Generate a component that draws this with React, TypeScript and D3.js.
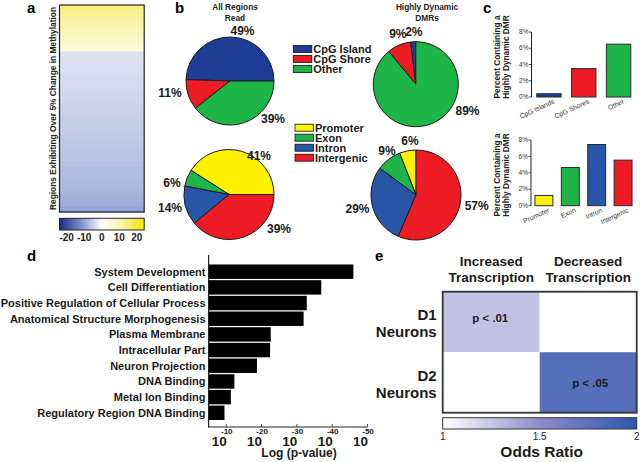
import React from 'react';
import * as d3 from 'd3';

const FONT = '"Liberation Sans", Arial, Helvetica, sans-serif';

// ---------- Panel a: heatmap rows (% change in methylation) ----------
const heatRows = [12, 11, 10, 9, 8, 7, 6, 5, 4,
  -2.6, -2.7, -2.8, -2.9, -3.0, -3.2, -3.3, -3.4, -3.6, -3.7, -3.9, -4.0, -4.1, -4.3, -4.4,
  -4.6, -4.7, -4.9, -5.0, -5.2, -5.3, -5.5, -5.7, -5.8, -6.0, -6.2, -6.4, -6.7, -7.0, -7.4, -8.1];
const heatTicks = [-20, -10, 0, 10, 20];

// ---------- Panel b: pies ----------
const regionCats = ['CpG Island', 'CpG Shore', 'Other'];
const allRegionsPct = [49, 11, 39];
const dynamicRegionsPct = [2, 9, 89];
const featureCats = ['Promoter', 'Exon', 'Intron', 'Intergenic'];
const allFeaturesPct = [41, 6, 14, 39];
const dynamicFeaturesPct = [6, 9, 29, 57];

// ---------- Panel c: bars ----------
const regionBarLabels = ['CpG Islands', 'CpG Shores', 'Other'];
const regionBarPct = [0.4, 3.5, 6.5];
const featureBarPct = [1.25, 4.65, 7.45, 5.55];
const pctTicks = [0, 2, 4, 6, 8];

// ---------- Panel d: GO terms ----------
const goTerms = ['System Development', 'Cell Differentiation', 'Positive Regulation of Cellular Process',
  'Anatomical Structure Morphogenesis', 'Plasma Membrane', 'Intracellular Part', 'Neuron Projection',
  'DNA Binding', 'Metal Ion Binding', 'Regulatory Region DNA Binding'];
const goNegLogP = [46, 36.9, 32.8, 31.9, 22.6, 22.4, 18.7, 12.3, 11.3, 9.5];
const logTicks = [10, 20, 30, 40, 50];

// ---------- Panel e: odds ratio grid ----------
const cellTypes = ['D1', 'D2'];
const directions = ['Increased', 'Decreased'];
const oddsRatios = [[1.27, 1.0], [1.0, 1.78]];
const pLabels = [['p < .01', ''], ['', 'p < .05']];
const orTicks = [1, 1.5, 2];

// colours
const regionColors = ['#1f3c95', '#ed1c24', '#1eb548'];
const featureColors = ['#fff200', '#1eb548', '#2755a8', '#ed1c24'];

const heatColor = d3.scaleLinear<string>()
  .domain([-20, -10, 0, 10, 20])
  .range(['#1a2a80', '#7a8fcb', '#ffffff', '#f9f2a0', '#f5e600']);
const orColor = d3.scaleLinear<string>()
  .domain([1, 1.5, 2])
  .range(['#ffffff', '#8e8ccb', '#2a58ae']);

function Pie({ cx, cy, r, values, colors, start, labels }: any) {
  const pie = d3.pie<number>().sort(null).value(d => d).startAngle(start).endAngle(start - 2 * Math.PI);
  const arc = d3.arc<any>().innerRadius(0).outerRadius(r);
  const arcs = pie(values);
  return (
    <g transform={`translate(${cx},${cy})`}>
      {arcs.map((a, i) => (
        <path key={i} d={arc(a) as string} fill={colors[i]} stroke="#1a1a1a" strokeWidth={1} strokeLinejoin="round" />
      ))}
      {labels.map((l: any, i: number) => (
        <text key={'l' + i} x={l[0]} y={l[1]} textAnchor="middle" fontSize={12} fontWeight="bold" fill="#1a1a1a">
          {values[i] + '%'}
        </text>
      ))}
    </g>
  );
}

function Legend({ x, y, cats, colors }: any) {
  return (
    <g transform={`translate(${x},${y})`}>
      {cats.map((c: string, i: number) => (
        <g key={c} transform={`translate(0,${i * 10})`}>
          <rect x={0} y={-3.5} width={18.5} height={7} fill={colors[i]} stroke="#111" strokeWidth={0.8} />
          <text x={20} y={4} fontSize={11} fontWeight="bold" fill="#1a1a1a">{c}</text>
        </g>
      ))}
    </g>
  );
}

function BarChart({ labels, values, colors, y0, y8, x0, x1, pi, po, labelX, labelY, labelDy }: any) {
  const y = d3.scaleLinear().domain([0, 8]).range([y0, y8]);
  const x = d3.scaleBand<string>().domain(labels).range([x0, x1]).paddingInner(pi).paddingOuter(po);
  return (
    <g>
      <line x1={x0} x2={x0} y1={y(8)} y2={y(0)} stroke="#222" strokeWidth={1} />
      {pctTicks.map(t => (
        <g key={t}>
          <line x1={x0 - 2.5} x2={x0} y1={y(t)} y2={y(t)} stroke="#222" strokeWidth={0.8} />
          <text x={x0 - 3} y={y(t) + 2.2} fontSize={6.5} textAnchor="end" fill="#333">{t + '%'}</text>
        </g>
      ))}
      {labels.map((l: string, i: number) => (
        <g key={l}>
          <rect x={x(l)} y={y(values[i])} width={x.bandwidth()} height={y(0) - y(values[i])}
            fill={colors[i]} stroke="#2a2a2a" strokeWidth={1} />
          <text transform={`translate(${(x(l) as number) + x.bandwidth() / 2 + 6},${y0 + labelDy}) rotate(-25)`}
            fontSize={6.8} textAnchor="end" fill="#333">{l}</text>
        </g>
      ))}
      <text transform={`translate(${labelX},${labelY}) rotate(-90)`} textAnchor="middle" fontSize={8.3} fontWeight="bold" fill="#222">
        <tspan x={0} y={-9}>Percent Containing a</tspan>
        <tspan x={0} y={0}>Highly Dynamic DMR</tspan>
      </text>
    </g>
  );
}

export default function App() {
  // Panel a scales
  const hx0 = 59.5, hx1 = 144.2, hy0 = 5, hy1 = 212;
  const rowY = d3.scaleBand<number>().domain(heatRows.map((_, i) => i)).range([hy0, hy1]);
  const cbX = d3.scaleLinear().domain([-20, 20]).range([66.7, 136.7]);

  // Panel d scales
  const dx = d3.scaleLinear().domain([5, 50]).range([208.6, 367.5]);
  const dy = d3.scaleBand<string>().domain(goTerms).range([264.5, 420]).paddingInner(0.08);

  // Panel e scales
  const ex = d3.scaleBand<string>().domain(directions).range([442.7, 636.7]);
  const ey = d3.scaleBand<string>().domain(cellTypes).range([291.7, 412.7]);
  const orX = d3.scaleLinear().domain([1, 2]).range([442.7, 636.7]);

  const gradStops = d3.range(0, 1.0001, 0.05);

  return (
    <svg width={640} height={462} style={{ position: 'absolute', left: 0, top: 0, background: '#fff' }} fontFamily={FONT}>
      <defs>
        <linearGradient id="gradA" x1="0" x2="1" y1="0" y2="0">
          {gradStops.map(t => <stop key={t} offset={t} stopColor={heatColor(-20 + 40 * t)} />)}
        </linearGradient>
        <linearGradient id="gradE" x1="0" x2="1" y1="0" y2="0">
          {gradStops.map(t => <stop key={t} offset={t} stopColor={orColor(1 + t)} />)}
        </linearGradient>
      </defs>
      <rect x={0} y={0} width={640} height={462} fill="#fff" />

      {/* Panel letters */}
      <text x={27} y={13} fontSize={15} fontWeight="bold">a</text>
      <text x={175} y={13} fontSize={15} fontWeight="bold">b</text>
      <text x={483} y={13} fontSize={15} fontWeight="bold">c</text>
      <text x={27} y={261} fontSize={15} fontWeight="bold">d</text>
      <text x={375} y={261} fontSize={15} fontWeight="bold">e</text>

      {/* ---------- Panel a ---------- */}
      {heatRows.map((v, i) => (
        <rect key={i} x={hx0} y={rowY(i)} width={hx1 - hx0} height={rowY.bandwidth() + 0.5} fill={heatColor(v)} />
      ))}
      <rect x={hx0} y={hy0} width={hx1 - hx0} height={hy1 - hy0} fill="none" stroke="#222" strokeWidth={1.2} />
      <text transform={`translate(56,${(hy0 + hy1) / 2}) rotate(-90)`} textAnchor="middle" fontSize={8.5} fontWeight="bold" fill="#222"
        textLength={203} lengthAdjust="spacingAndGlyphs">
        Regions Exhibiting Over 5% Change in Methylation
      </text>
      <rect x={hx0} y={218.3} width={hx1 - hx0} height={11.7} fill="url(#gradA)" stroke="#222" strokeWidth={1} />
      {heatTicks.map(t => (
        <text key={t} x={cbX(t)} y={241} textAnchor="middle" fontSize={10} fontWeight="bold" fill="#222">{t}</text>
      ))}

      {/* ---------- Panel b ---------- */}
      <text x={235} y={10} textAnchor="middle" fontSize={8.3} fontWeight="bold" fill="#222">All Regions</text>
      <text x={235} y={21} textAnchor="middle" fontSize={8.3} fontWeight="bold" fill="#222">Read</text>
      <text x={427} y={10} textAnchor="middle" fontSize={8.3} fontWeight="bold" fill="#222">Highly Dynamic</text>
      <text x={427} y={21} textAnchor="middle" fontSize={8.3} fontWeight="bold" fill="#222">DMRs</text>

      <Pie cx={230} cy={81} r={44} values={allRegionsPct} colors={regionColors} start={Math.PI / 2}
        labels={[[12.5, -46], [-60, 15.7], [43, 42]]} />
      <Pie cx={415.8} cy={84.2} r={42.5} values={dynamicRegionsPct} colors={regionColors} start={0}
        labels={[[-2, -48.5], [-18, -46.5], [51.7, 31]]} />
      <Pie cx={229} cy={194.5} r={45} values={allFeaturesPct} colors={featureColors} start={Math.PI / 2}
        labels={[[30, -35], [-57, -8], [-59, 17], [50, 38.5]]} />
      <Pie cx={416} cy={195} r={45} values={dynamicFeaturesPct} colors={featureColors} start={0}
        labels={[[-6, -50], [-29, -40.5], [-58.5, 18], [60.7, 15]]} />

      <Legend x={293.3} y={49} cats={regionCats} colors={regionColors} />
      <Legend x={295} y={127.7} cats={featureCats} colors={featureColors} />

      {/* ---------- Panel c ---------- */}
      <BarChart labels={regionBarLabels} values={regionBarPct} colors={regionColors}
        y0={97} y8={32} x0={531.5} x1={636} pi={0.3} po={0.15} labelX={509} labelY={57} labelDy={6} />
      <BarChart labels={featureCats} values={featureBarPct} colors={featureColors}
        y0={205.7} y8={140} x0={531} x1={636} pi={0.32} po={0.15} labelX={509} labelY={175} labelDy={6} />

      {/* ---------- Panel d ---------- */}
      {goTerms.map((g, i) => (
        <g key={g}>
          <rect x={dx(5)} y={dy(g)} width={dx(goNegLogP[i]) - dx(5)} height={dy.bandwidth()} fill="#000" />
          <text x={205.5} y={(dy(g) as number) + dy.bandwidth() / 2 + 3.9} textAnchor="end" fontSize={11} fontWeight="bold" fill="#1a1a1a">{g}</text>
        </g>
      ))}
      <line x1={dx(5)} x2={dx(5)} y1={255} y2={427.5} stroke="#222" strokeWidth={1.2} />
      <line x1={dx(5)} x2={dx(50)} y1={427} y2={427} stroke="#222" strokeWidth={1} />
      {logTicks.map(t => (
        <g key={t}>
          <line x1={dx(t)} x2={dx(t)} y1={424} y2={427} stroke="#222" strokeWidth={0.8} />
          <text x={dx(t) + 0.5} y={446} textAnchor="end" fontSize={13.5} fontWeight="bold" fill="#1a1a1a">10</text>
          <text x={dx(t) + 0.5} y={434} textAnchor="middle" fontSize={8} fontWeight="bold" fill="#1a1a1a">{'-' + t}</text>
        </g>
      ))}
      <text x={299} y={457} textAnchor="middle" fontSize={12} fontWeight="bold" fill="#1a1a1a">Log (p-value)</text>

      {/* ---------- Panel e ---------- */}
      {directions.map(d => (
        <text key={d} x={(ex(d) as number) + ex.bandwidth() / 2} y={266} textAnchor="middle" fontSize={13.5} fontWeight="bold" fill="#1a1a1a">
          <tspan x={(ex(d) as number) + ex.bandwidth() / 2} y={266}>{d}</tspan>
          <tspan x={(ex(d) as number) + ex.bandwidth() / 2} y={281.7}>Transcription</tspan>
        </text>
      ))}
      {cellTypes.map((c, ri) => (
        <g key={c}>
          <text x={436.7} y={(ey(c) as number) + 28.3} textAnchor="end" fontSize={15} fontWeight="bold" fill="#1a1a1a">{c}</text>
          <text x={436.7} y={(ey(c) as number) + 45.5} textAnchor="end" fontSize={15} fontWeight="bold" fill="#1a1a1a">Neurons</text>
          {directions.map((d, ci) => (
            <g key={d}>
              <rect x={ex(d)} y={ey(c)} width={ex.bandwidth()} height={ey.bandwidth()} fill={orColor(oddsRatios[ri][ci])} />
              {pLabels[ri][ci] && (
                <text x={(ex(d) as number) + ex.bandwidth() / 2 + (ri === 1 ? 2 : -1)} y={(ey(c) as number) + (ri === 1 ? 35 : 30)}
                  textAnchor="middle" fontSize={11.5} fontWeight="bold" fill="#1a1a1a">{pLabels[ri][ci]}</text>
              )}
            </g>
          ))}
        </g>
      ))}
      <rect x={442.7} y={291.7} width={194} height={121} fill="none" stroke="#333" strokeWidth={1.8} />
      <rect x={orX(1)} y={417.7} width={orX(2) - orX(1)} height={11.3} fill="url(#gradE)" stroke="#333" strokeWidth={1} />
      {orTicks.map(t => (
        <text key={t} x={orX(t)} y={440} textAnchor="middle" fontSize={10} fill="#222">{t}</text>
      ))}
      <text x={541.7} y={456.7} textAnchor="middle" fontSize={15.5} fontWeight="bold" fill="#1a1a1a">Odds Ratio</text>
    </svg>
  );
}
